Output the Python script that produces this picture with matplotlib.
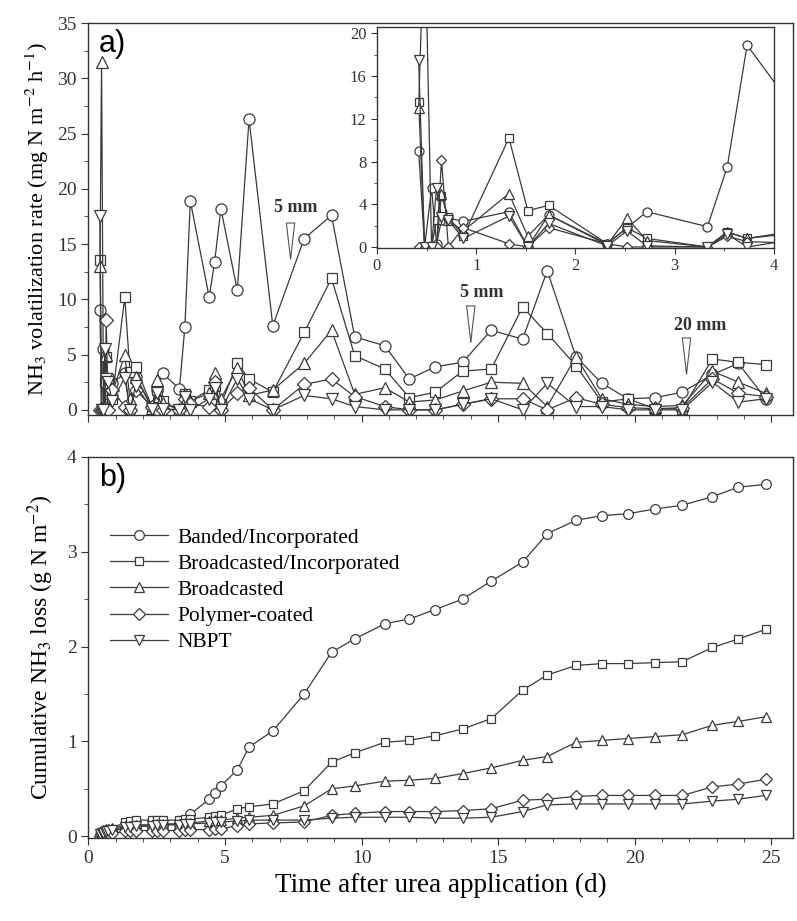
import matplotlib
matplotlib.use("Agg")
import matplotlib.pyplot as plt
from matplotlib.ticker import MultipleLocator

# ── Data ───────────────────────────────────────────────
# sampling times (days after urea application)
days = [0.42, 0.48, 0.55, 0.60, 0.65, 0.72, 0.87, 1.33, 1.52, 1.73,
        2.32, 2.52, 2.72, 3.33, 3.53, 3.73, 4.42, 4.62, 4.85, 5.45,
        5.88, 6.75, 7.90, 8.90, 9.75, 10.85, 11.75, 12.70, 13.70, 14.75,
        15.90, 16.80, 17.85, 18.80, 19.75, 20.75, 21.75, 22.85, 23.80, 24.80]

labels = ["Banded/Incorporated", "Broadcasted/Incorporated", "Broadcasted",
          "Polymer-coated", "NBPT"]

# NH3 volatilization rate (mg N m-2 h-1)
rate_banded = [9.0, 0.0, 5.5, 0.3, 2.5, 2.7, 2.4, 3.3, 0.0, 3.0,
               0.3, 1.8, 3.3, 1.9, 7.5, 18.9, 10.2, 13.4, 18.2, 10.8,
               26.3, 7.6, 15.5, 17.6, 6.6, 5.8, 2.8, 3.9, 4.3, 7.2,
               6.4, 12.6, 4.8, 2.4, 1.0, 1.1, 1.6, 3.2, 4.2, 1.0]
rate_bc_inc = [13.6, 0.0, 0.0, 2.5, 4.8, 2.8, 1.0, 10.2, 3.4, 3.9,
               0.3, 1.8, 0.8, 0.0, 1.4, 0.8, 1.8, 2.2, 0.5, 4.2,
               2.8, 1.6, 7.0, 11.9, 4.9, 3.7, 1.1, 1.6, 3.5, 3.7,
               9.3, 6.9, 4.0, 0.7, 1.0, 0.1, 0.1, 4.6, 4.3, 4.1]
rate_bc = [13.0, 31.5, 0.0, 0.0, 5.0, 2.5, 1.5, 5.0, 1.0, 3.0,
           0.2, 2.7, 0.6, 0.0, 1.4, 0.8, 1.5, 3.3, 1.0, 3.8,
           1.3, 1.8, 4.2, 7.2, 1.4, 2.0, 0.7, 0.9, 1.7, 2.5,
           2.4, 0.3, 4.8, 1.0, 0.5, 0.3, 0.4, 3.5, 2.5, 1.5]
rate_polymer = [0.0, 0.0, 0.0, 0.0, 8.1, 0.0, 1.8, 0.3, 0.0, 1.8,
                0.3, 0.0, 0.0, 0.0, 1.0, 0.5, 0.3, 2.5, 0.0, 1.5,
                2.0, 0.0, 2.3, 2.8, 1.2, 0.3, 0.0, 0.0, 0.5, 1.0,
                1.0, 0.0, 1.1, 0.5, 0.2, 0.1, 0.2, 2.8, 1.5, 1.2]
rate_nbpt = [17.5, 0.0, 0.0, 5.5, 2.8, 2.5, 0.8, 2.9, 0.0, 2.2,
             0.1, 1.5, 0.1, 0.0, 1.2, 0.0, 1.0, 2.0, 0.0, 2.8,
             1.0, 0.0, 1.3, 1.0, 0.3, 0.0, 0.0, 0.0, 0.5, 1.0,
             0.0, 2.4, 0.3, 0.3, 0.0, 0.0, 0.0, 2.5, 0.7, 1.0]

# cumulative NH3 loss (g N m-2)
cum_banded = [0.01, 0.02, 0.03, 0.03, 0.04, 0.05, 0.06, 0.08, 0.09, 0.10,
              0.11, 0.11, 0.12, 0.13, 0.16, 0.23, 0.39, 0.46, 0.53, 0.70,
              0.94, 1.11, 1.50, 1.94, 2.08, 2.24, 2.29, 2.39, 2.50, 2.69,
              2.89, 3.19, 3.33, 3.38, 3.40, 3.45, 3.49, 3.58, 3.68, 3.71]
cum_bc_inc = [0.03, 0.04, 0.04, 0.05, 0.06, 0.07, 0.08, 0.15, 0.16, 0.17,
              0.17, 0.17, 0.17, 0.17, 0.18, 0.18, 0.20, 0.21, 0.22, 0.29,
              0.31, 0.34, 0.48, 0.78, 0.88, 0.99, 1.01, 1.06, 1.13, 1.24,
              1.54, 1.70, 1.80, 1.82, 1.82, 1.83, 1.84, 1.99, 2.08, 2.18]
cum_bc = [0.03, 0.06, 0.07, 0.07, 0.08, 0.08, 0.09, 0.11, 0.11, 0.12,
          0.12, 0.13, 0.13, 0.13, 0.14, 0.14, 0.16, 0.17, 0.17, 0.19,
          0.20, 0.22, 0.32, 0.50, 0.53, 0.58, 0.59, 0.61, 0.66, 0.72,
          0.80, 0.84, 0.99, 1.01, 1.03, 1.05, 1.07, 1.17, 1.21, 1.26]
cum_polymer = [0.0, 0.0, 0.0, 0.0, 0.02, 0.03, 0.03, 0.05, 0.05, 0.06,
               0.06, 0.06, 0.06, 0.06, 0.07, 0.07, 0.07, 0.08, 0.08, 0.11,
               0.13, 0.14, 0.15, 0.22, 0.24, 0.26, 0.26, 0.26, 0.27, 0.29,
               0.38, 0.39, 0.42, 0.43, 0.43, 0.43, 0.43, 0.52, 0.55, 0.60]
cum_nbpt = [0.02, 0.03, 0.03, 0.04, 0.05, 0.06, 0.07, 0.10, 0.10, 0.11,
            0.11, 0.12, 0.12, 0.12, 0.13, 0.13, 0.14, 0.15, 0.15, 0.16,
            0.17, 0.17, 0.17, 0.19, 0.20, 0.20, 0.20, 0.19, 0.19, 0.20,
            0.26, 0.33, 0.34, 0.34, 0.34, 0.34, 0.34, 0.37, 0.39, 0.43]

rates = [rate_banded, rate_bc_inc, rate_bc, rate_polymer, rate_nbpt]
cums = [cum_banded, cum_bc_inc, cum_bc, cum_polymer, cum_nbpt]
markers = ["o", "s", "^", "D", "v"]
msizes = [1.0, 0.9, 1.05, 0.85, 1.05]

# rain events: label, day, arrow tail / tip, text position
rain_labels = ["5 mm", "5 mm", "20 mm"]
rain_days = [7.4, 14.0, 21.9]
rain_tail = [16.6, 9.2, 5.6]
rain_tip = [13.2, 5.7, 2.8]
rain_text_x = [7.6, 14.4, 22.4]
rain_text_y = [18.3, 10.6, 7.6]

# ── Style ──────────────────────────────────────────────
LINE = "#3a3a3a"
plt.rcParams.update({
    "font.family": ["Liberation Serif", "DejaVu Serif"],
    "mathtext.fontset": "stix",
    "axes.edgecolor": "#333333",
    "axes.linewidth": 1.0,
    "xtick.direction": "out",
    "ytick.direction": "out",
    "xtick.color": "#333333",
    "ytick.color": "#333333",
    "xtick.major.size": 5,
    "ytick.major.size": 5,
    "xtick.minor.size": 3,
    "ytick.minor.size": 3,
})

fig = plt.figure(figsize=(7.97, 9.21), dpi=100)
ax_a = fig.add_axes([0.111, 0.549, 0.884, 0.426])
ax_b = fig.add_axes([0.111, 0.090, 0.884, 0.414])
ax_in = fig.add_axes([0.473, 0.7307, 0.498, 0.240])


def draw(ax, ys, ms, lw=0.9):
    for y, m, k in zip(ys, markers, msizes):
        ax.plot(days, y, marker=m, ms=ms * k, mfc="white", mec=LINE,
                mew=0.9, color=LINE, lw=lw, clip_on=True)


# ── Panel a ────────────────────────────────────────────
draw(ax_a, rates, 8.0)
ax_a.set_xlim(0, 25.8)
ax_a.set_ylim(-0.5, 35)
ax_a.xaxis.set_major_locator(MultipleLocator(5))
ax_a.xaxis.set_minor_locator(MultipleLocator(1))
ax_a.yaxis.set_major_locator(MultipleLocator(5))
ax_a.yaxis.set_minor_locator(MultipleLocator(2.5))
ax_a.tick_params(axis="x", labelbottom=False)
ax_a.tick_params(axis="y", labelsize=14)
ax_a.set_ylabel("NH$_3$ volatilization rate (mg N m$^{-2}$ h$^{-1}$)",
                fontsize=16, labelpad=4)
ax_a.text(0.015, 0.985, "a)", transform=ax_a.transAxes, fontsize=22,
          family="Liberation Sans", va="top", ha="left")

for lab, d, t0, t1, tx, ty in zip(rain_labels, rain_days, rain_tail,
                                  rain_tip, rain_text_x, rain_text_y):
    ax_a.annotate("", xy=(d, t1), xytext=(d, t0),
                  arrowprops=dict(arrowstyle="-|>,head_length=2.6,head_width=0.3",
                                  fc="white", ec="#555555", lw=0.8,
                                  shrinkA=0, shrinkB=0))
    ax_a.text(tx, ty, lab, fontsize=13, fontweight="bold", ha="center",
              va="center", color="#333333")

# ── Inset ──────────────────────────────────────────────
ax_in.set_facecolor("white")
draw(ax_in, rates, 6.5, lw=0.9)
ax_in.set_xlim(0, 4)
ax_in.set_ylim(-0.1, 20.6)
ax_in.xaxis.set_major_locator(MultipleLocator(1))
ax_in.xaxis.set_minor_locator(MultipleLocator(0.5))
ax_in.yaxis.set_major_locator(MultipleLocator(4))
ax_in.yaxis.set_minor_locator(MultipleLocator(2))
ax_in.tick_params(labelsize=12, length=4)
ax_in.tick_params(which="minor", length=2.5)

# ── Panel b ────────────────────────────────────────────
for y, m, k, lab in zip(cums, markers, msizes, labels):
    ax_b.plot(days, y, marker=m, ms=7.0 * k, mfc="white", mec=LINE,
              mew=0.9, color=LINE, lw=0.9, label=lab)
ax_b.set_xlim(0, 25.8)
ax_b.set_ylim(-0.02, 4)
ax_b.xaxis.set_major_locator(MultipleLocator(5))
ax_b.xaxis.set_minor_locator(MultipleLocator(1))
ax_b.yaxis.set_major_locator(MultipleLocator(1))
ax_b.yaxis.set_minor_locator(MultipleLocator(0.5))
ax_b.tick_params(labelsize=14)
ax_b.set_xlabel("Time after urea application (d)", fontsize=19.5, labelpad=4)
ax_b.set_ylabel("Cumulative NH$_3$ loss (g N m$^{-2}$)", fontsize=17, labelpad=8)
ax_b.text(0.015, 0.985, "b)", transform=ax_b.transAxes, fontsize=22,
          family="Liberation Sans", va="top", ha="left")
ax_b.legend(loc="upper left", bbox_to_anchor=(0.012, 0.848), frameon=False,
            fontsize=15.5, handlelength=2.7, labelspacing=0.28,
            handletextpad=0.45, borderaxespad=0.2)

fig.savefig("out.png", dpi=100)
